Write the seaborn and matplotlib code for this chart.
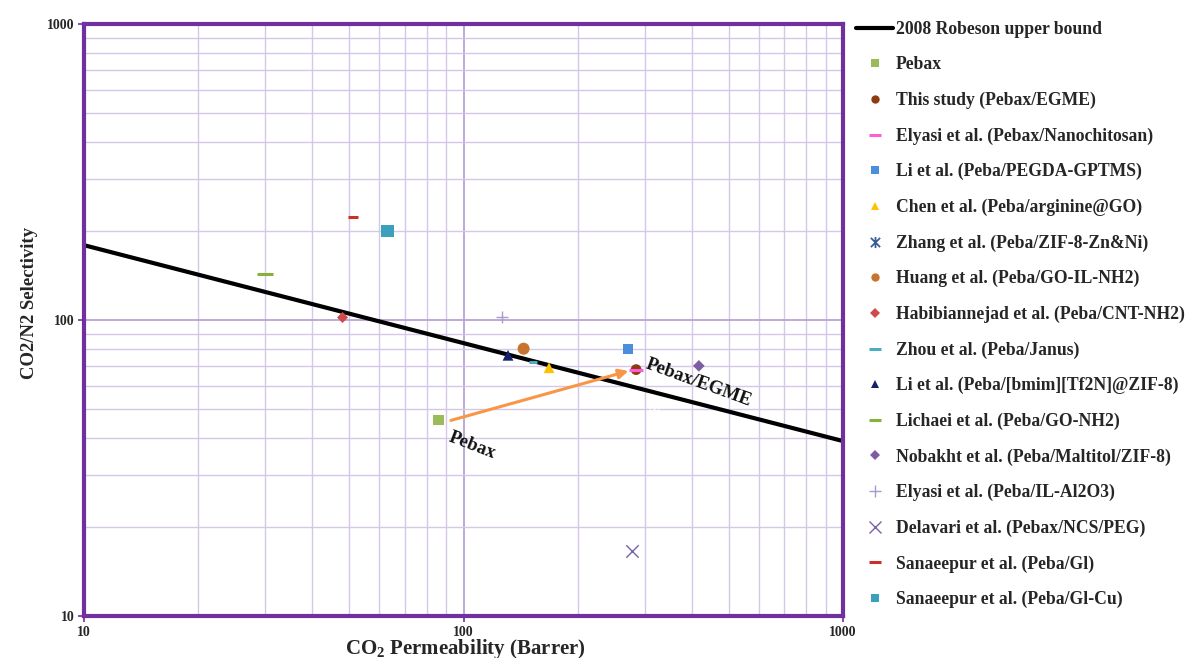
import matplotlib
matplotlib.use("Agg")
import matplotlib.pyplot as plt
import seaborn as sns
import pandas as pd
from matplotlib.path import Path
from matplotlib.lines import Line2D

# Robeson 2008 CO2/N2 upper bound (end points of the straight line on log axes)
robeson_perm = [10, 1000]
robeson_sel = [179, 39]

# membrane data: CO2 permeability (Barrer) and CO2/N2 selectivity
labels = [
    "Pebax",
    "This study (Pebax/EGME)",
    "Elyasi et al. (Pebax/Nanochitosan)",
    "Li et al. (Peba/PEGDA-GPTMS)",
    "Chen et al. (Peba/arginine@GO)",
    "Zhang et al. (Peba/ZIF-8-Zn&Ni)",
    "Huang et al. (Peba/GO-IL-NH2)",
    "Habibiannejad et al. (Peba/CNT-NH2)",
    "Zhou et al. (Peba/Janus)",
    "Li et al. (Peba/[bmim][Tf2N]@ZIF-8)",
    "Lichaei et al. (Peba/GO-NH2)",
    "Nobakht et al. (Peba/Maltitol/ZIF-8)",
    "Elyasi et al. (Peba/IL-Al2O3)",
    "Delavari et al. (Pebax/NCS/PEG)",
    "Sanaeepur et al. (Peba/Gl)",
    "Sanaeepur et al. (Peba/Gl-Cu)",
]
permeability = [86, 285, 285, 271, 168, 318, 144, 48, 152, 131, 30, 417, 126, 278, 51, 63]
selectivity = [46, 68, 68, 80, 69, 48, 80, 102, 72, 76, 143, 70, 102, 16.6, 223, 200]

# asterisk marker: an "x" crossed by a vertical stroke
asterisk = Path(
    [(-1, -1), (1, 1), (-1, 1), (1, -1), (0, -1.2), (0, 1.2)],
    [Path.MOVETO, Path.LINETO, Path.MOVETO, Path.LINETO, Path.MOVETO, Path.LINETO],
)

styles = [
    dict(marker="s", color="#9BBB59", s=55),
    dict(marker="o", color="#8E3B12", s=60),
    dict(marker="_", color="#FF5CD6", s=110, lw=2.2),
    dict(marker="s", color="#4A8EDC", s=55),
    dict(marker="^", color="#FFC000", s=60),
    dict(marker=asterisk, color="#3B5E9A", s=70, lw=1.3),
    dict(marker="o", color="#C8742F", s=75),
    dict(marker="D", color="#CF4A4A", s=32),
    dict(marker="_", color="#4BACC6", s=40, lw=2.2),
    dict(marker="^", color="#14206A", s=60),
    dict(marker="_", color="#86B23A", s=120, lw=2.2),
    dict(marker="D", color="#7C5CA2", s=35),
    dict(marker="+", color="#A89BCB", s=80, lw=1.0),
    dict(marker="x", color="#7A62A8", s=80, lw=1.0),
    dict(marker="_", color="#C8302A", s=60, lw=2.2),
    dict(marker="s", color="#3AA0BC", s=85),
]

sns.set_theme(style="white")
plt.rcParams["font.family"] = ["Liberation Serif", "DejaVu Serif"]
plt.rcParams["font.weight"] = "bold"
plt.rcParams["mathtext.fontset"] = "custom"
plt.rcParams["mathtext.rm"] = "Liberation Serif:bold"
plt.rcParams["mathtext.bf"] = "Liberation Serif:bold"
plt.rcParams["mathtext.it"] = "Liberation Serif:bold:italic"

frame = "#7030A0"
grid_minor = "#D4C8E6"
grid_major = "#B7A3D6"

fig = plt.figure(figsize=(11.9, 6.58), dpi=100)
ax = fig.add_axes([0.0706, 0.0638, 0.6378, 0.8997])
ax.set_xscale("log")
ax.set_yscale("log")
ax.set_xlim(10, 1000)
ax.set_ylim(10, 1000)

ax.grid(True, which="minor", color=grid_minor, lw=1.0)
ax.grid(True, which="major", color=grid_major, lw=1.3)
ax.set_axisbelow(True)

bound = pd.DataFrame({"perm": robeson_perm, "sel": robeson_sel})
sns.lineplot(data=bound, x="perm", y="sel", color="black", lw=3, ax=ax,
             label="2008 Robeson upper bound", legend=False)

handles = [Line2D([0], [0], color="black", lw=3)]
for lab, px, sy, st in zip(labels, permeability, selectivity, styles):
    m = st["marker"]
    filled = m in ("s", "o", "^", "D")
    if filled:
        sns.scatterplot(x=[px], y=[sy], marker=m, color=st["color"], s=st["s"],
                        edgecolor="none", ax=ax, legend=False, zorder=3)
        handles.append(Line2D([0], [0], ls="none", marker=m, color=st["color"],
                              markersize=6 if m != "D" else 5, markeredgewidth=0))
    else:
        sns.scatterplot(x=[px], y=[sy], marker=m, color=st["color"], s=st["s"],
                        linewidth=st["lw"], ax=ax, legend=False, zorder=3)
        handles.append(Line2D([0], [0], ls="none", marker=m, color=st["color"],
                              markersize=8, markeredgewidth=st["lw"]))

# arrow from neat Pebax to the modified membrane
ax.annotate("", xy=(permeability[1] * 0.97, selectivity[1] * 0.995),
            xytext=(permeability[0] * 1.06, selectivity[0] * 0.99),
            arrowprops=dict(arrowstyle="-|>", color="#F79646", lw=2.2,
                            mutation_scale=14), zorder=4)
ax.text(90, 37.8, "Pebax", rotation=-21, fontsize=13.5, fontweight="bold",
        ha="left", va="center", color="#111111")
ax.text(298, 61.5, "Pebax/EGME", rotation=-20, fontsize=13.5, fontweight="bold",
        ha="left", va="center", color="#111111")

for sp in ax.spines.values():
    sp.set_color(frame)
    sp.set_linewidth(3)

ax.set_xticks([10, 100, 1000])
ax.set_xticklabels(["10", "100", "1000"])
ax.set_yticks([10, 100, 1000])
ax.set_yticklabels(["10", "100", "1000"])
ax.tick_params(which="major", length=4, width=1.2, color=frame, labelsize=10, pad=3,
               direction="out", bottom=True, left=True)
ax.tick_params(which="minor", length=0)
for t in ax.get_xticklabels() + ax.get_yticklabels():
    t.set_fontweight("bold")

ax.set_xlabel("CO$_\\mathbf{2}$ Permeability (Barrer)", fontsize=15, fontweight="bold")
ax.xaxis.set_label_coords(0.502, -0.035)
ax.set_ylabel("CO2/N2 Selectivity", fontsize=13.5, fontweight="bold")
ax.yaxis.set_label_coords(-0.060, 0.529)

fig.legend(handles, ["2008 Robeson upper bound"] + labels, loc="upper left",
           bbox_to_anchor=(0.706, 0.992), frameon=False,
           labelspacing=1.04, handlelength=2.1, handletextpad=0.15,
           prop=dict(family="Liberation Serif", weight="bold", size=12.7))

fig.savefig("out.png", dpi=100)
